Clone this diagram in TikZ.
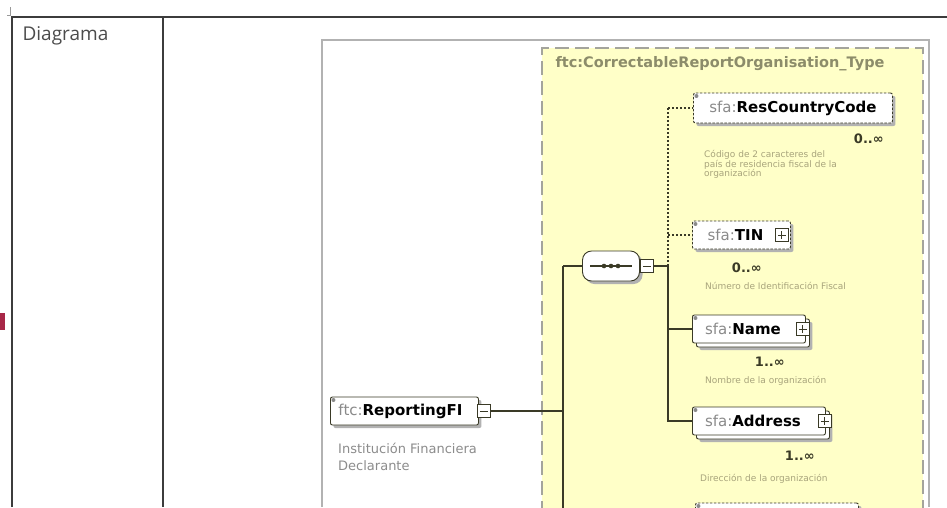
\documentclass[tikz,border=0pt]{standalone}
\usepackage{fontspec}
\setmainfont{DejaVu Sans}
\newfontfamily\docfont{Open Sans}
\usetikzlibrary{positioning,shadows,calc}
\definecolor{xsyellow}{HTML}{FFFFC8}
\definecolor{xsframe}{HTML}{A4A49C}
\definecolor{xsline}{HTML}{3A3A26}
\definecolor{xstitle}{HTML}{8C8C6A}
\definecolor{xsdesc}{HTML}{A8A47C}
\definecolor{xsprefix}{HTML}{8A8A8A}
\definecolor{tblline}{HTML}{3C3C3C}
\definecolor{marker}{HTML}{A82848}
\newcommand{\xsname}[2]{\textcolor{xsprefix}{#1:}\textbf{#2}}

\begin{document}
\begin{tikzpicture}[x=1pt,y=-1pt]
\tikzstyle{elem}=[draw=xsline, fill=white, line width=0.9pt, rounded corners=2pt, minimum height=28pt, inner xsep=6pt, font=\fontsize{15}{17}\selectfont, anchor=west, drop shadow={shadow xshift=3pt, shadow yshift=-3pt, fill=black!30, opacity=1}, path picture={\fill[xsprefix] ([xshift=1pt,yshift=-1pt]path picture bounding box.north west) rectangle ++(4pt,-4pt);}]
\tikzstyle{optelem}=[elem, dash pattern=on 2.5pt off 1.5pt]
\tikzstyle{multielem}=[draw=xsline, fill=white, line width=0.9pt, rounded corners=2pt, minimum height=28pt, inner xsep=6pt, font=\fontsize{15}{17}\selectfont, anchor=west, drop shadow={shadow xshift=7pt, shadow yshift=-7pt, fill=black!30, opacity=1}, copy shadow={shadow xshift=4pt, shadow yshift=-4pt}, path picture={\fill[xsprefix] ([xshift=1pt,yshift=-1pt]path picture bounding box.north west) rectangle ++(4pt,-4pt);}]
\tikzstyle{expbox}=[draw=xsline, fill=white, line width=1pt, minimum size=13pt, inner sep=0pt]
\tikzstyle{minusbox}=[expbox, path picture={\draw ([xshift=2.5pt]path picture bounding box.west) -- ([xshift=-2.5pt]path picture bounding box.east);}]
\tikzstyle{plusbox}=[expbox, path picture={\draw ([xshift=2.5pt]path picture bounding box.west) -- ([xshift=-2.5pt]path picture bounding box.east) ([yshift=2.5pt]path picture bounding box.south) -- ([yshift=-2.5pt]path picture bounding box.north);}]
\tikzstyle{seqbox}=[draw=xsline, fill=white, line width=0.9pt, rounded corners=9pt, minimum width=57pt, minimum height=30pt, inner sep=0pt, drop shadow={shadow xshift=3pt, shadow yshift=-3pt, fill=black!30, opacity=1}]
\tikzstyle{conn}=[draw=xsline, line width=1.2pt]
\tikzstyle{dotconn}=[conn, dash pattern=on 2pt off 2pt]
\tikzstyle{occ}=[font=\bfseries\fontsize{13}{15}\selectfont, text=xsline, inner sep=1pt]
\tikzstyle{desc}=[font=\fontsize{9}{9.5}\selectfont, text=xsdesc, inner sep=0pt, align=left]

\clip (0,0) rectangle (947,507);
\fill[white] (0,0) rectangle (947,507);

% table of the page
\fill[marker] (0,313) rectangle (5,330);
\draw[black!40, line width=0.5pt] (10,7) -- (10,15) -- (7,15);
\draw[tblline, line width=2pt] (12,507) -- (12,17) -- (947,17) (163,17) -- (163,507);
\node[anchor=west, font=\docfont\fontsize{19}{22}\selectfont, text=black!70] (diag) at (19,36) {Diagrama};

% schema frame
\draw[black!30, line width=1.2pt] (322,507) -- (322,40) -- (929,40) -- (929,507);
\fill[xsyellow] (542,48) rectangle (923,515);
\draw[xsframe, line width=1.5pt, dash pattern=on 14pt off 6pt] (542,515) -- (542,48) -- (923,48) -- (923,515);
\node[anchor=west, font=\bfseries\fontsize{14.5}{16}\selectfont, text=xstitle] (ttl) at (552,64) {ftc:CorrectableReportOrganisation\_Type};

% connectors
\coordinate (busA) at (563,266);
\coordinate (busB) at (668,266);
\coordinate (busAend) at (563,515);

\node[elem, minimum width=148pt] (rfi) at (330,411) {\xsname{ftc}{ReportingFI}\hspace*{8pt}};
\node[minusbox] (rfiexp) at ([xshift=5pt]rfi.east) {};
\node[seqbox] (seq) at (611,266) {};
\draw[line width=1.2pt, xsline] ([xshift=8pt]seq.west) -- ([xshift=-8pt]seq.east);
\foreach \dx in {-7,0,7}
  \fill[xsline] ([xshift=\dx pt]seq.center) circle (2.3pt);
\node[minusbox] (seqexp) at ([xshift=7pt]seq.east) {};

\node[optelem, minimum width=199pt, minimum height=30pt] (rcc) at (693,108) {\xsname{sfa}{ResCountryCode}};
\node[optelem, minimum width=98pt] (tin) at (692,235) {\xsname{sfa}{TIN}\hspace*{12pt}};
\node[plusbox] (tinexp) at ([xshift=-9pt]tin.east) {};
\node[multielem, minimum width=113pt] (nm) at (692,329) {\xsname{sfa}{Name}\hspace*{12pt}};
\node[plusbox] (nmexp) at ([xshift=-3pt]nm.east) {};
\node[multielem, minimum width=133pt] (adr) at (692,421) {\xsname{sfa}{Address}\hspace*{12pt}};
\node[plusbox] (adrexp) at ([xshift=-1pt]adr.east) {};
\node[optelem, minimum width=163pt] (nxt) at (695,517) {};

\draw[conn] (busA) -- (busAend);
\draw[conn] (rfiexp.east) -- (rfiexp.east -| busA);
\draw[conn] (busA) -- (seq.west);
\draw[conn] (seqexp.east) -- (busB);
\draw[dotconn] (rcc.west -| busB) -- (busB);
\draw[dotconn] (rcc.west -| busB) -- (rcc.west);
\draw[dotconn] (tin.west -| busB) -- (tin.west);
\draw[conn] (busB) |- (adr.west);
\draw[conn] (busB |- nm.west) -- (nm.west);

% occurrences and annotations
\node[occ, below left=9pt and 8pt of rcc.south east] (rccocc) {0..∞};
\node[occ, below left=12pt and 28pt of tin.south east] (tinocc) {0..∞};
\node[occ, below left=12pt and 20pt of nm.south east] (nmocc) {1..∞};
\node[occ, below left=14pt and 10pt of adr.south east] (adrocc) {1..∞};

\node[desc, below right=27pt and 11pt of rcc.south west] (rccdesc) {Código de 2 caracteres del\\país de residencia fiscal de la\\organización};
\node[desc, below right=33pt and 13pt of tin.south west] (tindesc) {Número de Identificación Fiscal};
\node[desc, below right=33pt and 13pt of nm.south west] (nmdesc) {Nombre de la organización};
\node[desc, below right=39pt and 8pt of adr.south west] (adrdesc) {Dirección de la organización};
\node[font=\fontsize{13}{17}\selectfont, text=black!45, align=left, inner sep=0pt, below right=17pt and 8pt of rfi.south west] (rfidesc) {Institución Financiera\\Declarante};
\end{tikzpicture}
\end{document}
